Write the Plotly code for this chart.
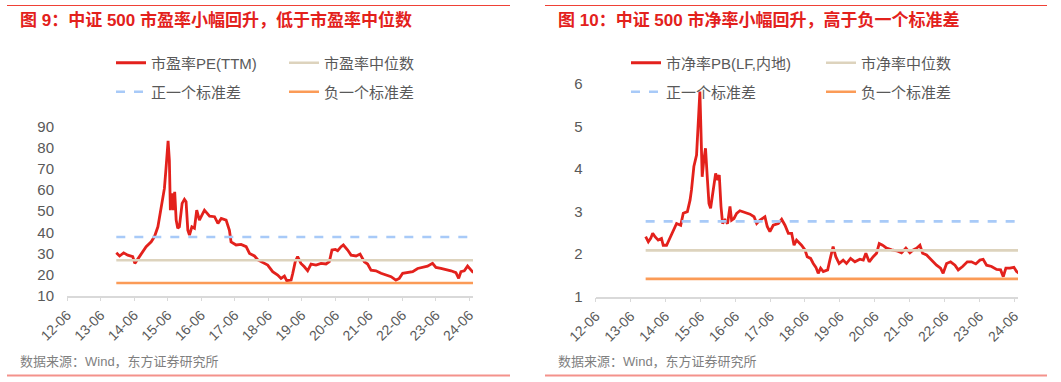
import plotly.graph_objects as go

# ---------------- data ----------------
pe_dates = ["2013-11-20", "2013-12-26", "2014-02-08", "2014-03-25", "2014-05-18", "2014-06-10", "2014-07-30",
            "2014-09-05", "2014-10-11", "2014-12-05", "2015-01-10", "2015-02-16", "2015-03-22", "2015-04-28",
            "2015-05-15", "2015-06-07", "2015-06-21", "2015-07-02", "2015-07-20", "2015-08-04", "2015-08-18",
            "2015-09-03", "2015-09-20", "2015-10-08", "2015-11-07", "2015-12-02", "2015-12-20", "2016-01-08",
            "2016-01-26", "2016-02-21", "2016-03-20", "2016-04-14", "2016-05-13", "2016-07-07", "2016-09-01",
            "2016-10-25", "2016-12-01", "2017-01-06", "2017-02-28", "2017-04-05", "2017-04-23", "2017-06-17",
            "2017-08-10", "2017-10-04", "2017-11-10", "2018-01-03", "2018-02-09", "2018-04-03", "2018-05-27",
            "2018-07-20", "2018-09-13", "2018-10-19", "2018-11-25", "2018-12-20", "2019-02-06", "2019-02-24",
            "2019-03-23", "2019-04-18", "2019-05-24", "2019-06-30", "2019-08-05", "2019-09-11", "2019-11-04",
            "2019-12-29", "2020-02-21", "2020-03-28", "2020-04-26", "2020-06-02", "2020-06-27", "2020-08-03",
            "2020-08-28", "2020-10-14", "2020-11-20", "2021-01-14", "2021-02-26", "2021-04-13", "2021-05-19",
            "2021-06-25", "2021-08-18", "2021-10-12", "2021-12-06", "2022-01-30", "2022-03-23", "2022-04-29",
            "2022-06-05", "2022-07-29", "2022-09-22", "2022-11-15", "2023-01-09", "2023-03-03", "2023-04-26",
            "2023-06-02", "2023-07-26", "2023-09-19", "2023-11-13", "2024-01-06", "2024-02-05", "2024-03-01",
            "2024-04-06", "2024-05-12", "2024-06-07", "2024-07-13"]
pe_values = [30.3, 28.8, 30.3, 29.2, 28.5, 25.3, 28.5,
             30.8, 33.2, 35.5, 38.0, 42.6, 52.0, 60.8,
             70.0, 83.3, 74.0, 50.5, 58.4, 50.5, 59.2,
             45.8, 41.9, 42.6, 53.7, 55.6, 54.5, 41.0,
             38.7, 42.6, 41.9, 50.5, 45.8, 50.5, 47.7,
             47.4, 44.2, 46.6, 45.8, 41.0, 35.5, 34.0,
             34.3, 33.2, 30.0, 28.8, 26.9, 25.6, 24.5,
             21.4, 19.8, 18.2, 19.3, 17.1, 17.4, 20.6,
             26.1, 28.5, 25.3, 23.7, 21.8, 25.0, 24.5,
             25.3, 25.0, 26.1, 31.6, 31.9, 31.3, 33.2,
             34.0, 31.6, 29.2, 28.8, 29.7, 26.1, 25.0,
             22.1, 21.8, 20.6, 19.8, 19.0, 17.4, 18.2,
             20.6, 20.9, 21.4, 22.9, 23.4, 24.0, 25.3,
             23.4, 22.9, 22.5, 21.8, 20.9, 18.2, 21.4,
             21.8, 24.0, 22.9, 20.9]
pe_median = 26.8
pe_plus_sd = 37.8
pe_minus_sd = 16.0

pb_dates = ["2013-11-06", "2013-12-04", "2013-12-29", "2014-01-19", "2014-02-12", "2014-03-17", "2014-04-21",
            "2014-05-09", "2014-06-13", "2014-07-18", "2014-08-22", "2014-09-26", "2014-11-08", "2014-12-05",
            "2015-01-17", "2015-02-14", "2015-03-01", "2015-03-26", "2015-04-23", "2015-05-10", "2015-05-28",
            "2015-06-07", "2015-06-21", "2015-07-08", "2015-07-26", "2015-08-13", "2015-08-31", "2015-09-17",
            "2015-10-15", "2015-11-09", "2015-11-30", "2015-12-17", "2016-01-04", "2016-01-21", "2016-02-15",
            "2016-03-13", "2016-04-07", "2016-04-24", "2016-05-19", "2016-06-16", "2016-07-20", "2016-09-12",
            "2016-11-03", "2016-12-15", "2017-01-12", "2017-02-16", "2017-04-08", "2017-05-02", "2017-05-30",
            "2017-07-04", "2017-08-26", "2017-09-30", "2017-11-04", "2017-12-09", "2018-01-13", "2018-02-07",
            "2018-03-05", "2018-04-26", "2018-06-01", "2018-06-25", "2018-07-30", "2018-08-27", "2018-09-24",
            "2018-10-18", "2018-11-12", "2018-12-10", "2019-01-25", "2019-02-17", "2019-03-23", "2019-04-20",
            "2019-05-25", "2019-07-06", "2019-08-10", "2019-09-22", "2019-11-06", "2019-12-28", "2020-02-02",
            "2020-02-29", "2020-04-04", "2020-05-16", "2020-06-20", "2020-07-18", "2020-08-22", "2020-10-03",
            "2020-11-25", "2021-01-17", "2021-03-08", "2021-04-23", "2021-06-04", "2021-07-09", "2021-08-13",
            "2021-09-17", "2021-10-15", "2021-11-26", "2022-01-18", "2022-03-10", "2022-04-21", "2022-05-18",
            "2022-06-23", "2022-08-04", "2022-09-19", "2022-10-23", "2022-12-08", "2023-01-26", "2023-03-11",
            "2023-04-25", "2023-06-07", "2023-07-11", "2023-08-16", "2023-10-07", "2023-11-29", "2024-01-10",
            "2024-02-07", "2024-03-05", "2024-04-16", "2024-05-28", "2024-06-25", "2024-07-23"]
pb_values = [2.41, 2.29, 2.37, 2.49, 2.41, 2.33, 2.37,
             2.21, 2.21, 2.37, 2.57, 2.72, 2.68, 2.96,
             3.00, 3.27, 3.51, 4.06, 4.33, 5.00, 5.82,
             5.00, 3.82, 4.21, 4.49, 3.82, 3.19, 3.08,
             3.51, 3.90, 3.74, 3.86, 3.12, 2.72, 2.80,
             2.72, 3.12, 2.80, 2.84, 2.96, 3.02, 2.97,
             2.94, 2.88, 2.72, 2.80, 2.88, 2.65, 2.53,
             2.68, 2.72, 2.82, 2.68, 2.49, 2.49, 2.21,
             2.33, 2.21, 2.10, 1.94, 1.90, 1.78, 1.69,
             1.55, 1.67, 1.59, 1.63, 1.86, 2.18, 1.94,
             1.78, 1.86, 1.78, 1.90, 1.82, 1.88, 1.86,
             2.02, 1.82, 1.94, 2.02, 2.25, 2.21, 2.14,
             2.10, 2.08, 2.03, 2.14, 2.03, 2.10, 2.14,
             2.21, 2.02, 1.98, 1.86, 1.74, 1.67, 1.55,
             1.78, 1.82, 1.74, 1.63, 1.71, 1.82, 1.82,
             1.77, 1.86, 1.88, 1.74, 1.71, 1.64, 1.63,
             1.47, 1.67, 1.67, 1.69, 1.59, 1.55]
pb_median = 2.09
pb_plus_sd = 2.77
pb_minus_sd = 1.42

tick_dates = ["2012-06-01", "2013-06-01", "2014-06-01", "2015-06-01", "2016-06-01", "2017-06-01", "2018-06-01",
              "2019-06-01", "2020-06-01", "2021-06-01", "2022-06-01", "2023-06-01", "2024-06-01"]
tick_labels = ["12-06", "13-06", "14-06", "15-06", "16-06", "17-06", "18-06",
               "19-06", "20-06", "21-06", "22-06", "23-06", "24-06"]
pe_yticks = [10, 20, 30, 40, 50, 60, 70, 80, 90]
pb_yticks = [1, 2, 3, 4, 5, 6]

titles = ["图 9：中证 500 市盈率小幅回升，低于市盈率中位数",
          "图 10：中证 500 市净率小幅回升，高于负一个标准差"]
source = "数据来源：Wind，东方证券研究所"
pe_names = ["市盈率PE(TTM)", "市盈率中位数", "正一个标准差", "负一个标准差"]
pb_names = ["市净率PB(LF,内地)", "市净率中位数", "正一个标准差", "负一个标准差"]

# ---------------- style ----------------
W, H = 1061, 382
FONT = "Liberation Sans, Arial, Noto Sans CJK SC, sans-serif"
RED = "#e3211c"
BEIGE = "#ddd3bd"
BLUE = "#a8caf8"
ORANGE = "#fb9b57"
GRAY = "#595959"
AXIS = "#d9d9d9"


def px_x(v):
    return v / W


def px_y(v):
    return 1 - v / H


fig = go.Figure()


def add_chart(dates, values, median, plus_sd, minus_sd, names, xa, ya, leg_a, leg_b):
    span = [dates[0], dates[-1]]
    fig.add_trace(go.Scatter(x=dates, y=values, mode="lines", name=names[0],
                             line=dict(color=RED, width=2.8), xaxis=xa, yaxis=ya, legend=leg_a))
    fig.add_trace(go.Scatter(x=span, y=[median, median], mode="lines", name=names[1],
                             line=dict(color=BEIGE, width=2.6), xaxis=xa, yaxis=ya, legend=leg_a))
    fig.add_trace(go.Scatter(x=span, y=[plus_sd, plus_sd], mode="lines", name=names[2],
                             line=dict(color=BLUE, width=2.6, dash="dash"), xaxis=xa, yaxis=ya, legend=leg_b))
    fig.add_trace(go.Scatter(x=span, y=[minus_sd, minus_sd], mode="lines", name=names[3],
                             line=dict(color=ORANGE, width=2.6), xaxis=xa, yaxis=ya, legend=leg_b))


add_chart(pe_dates, pe_values, pe_median, pe_plus_sd, pe_minus_sd, pe_names, "x", "y", "legend", "legend2")
add_chart(pb_dates, pb_values, pb_median, pb_plus_sd, pb_minus_sd, pb_names, "x2", "y2", "legend3", "legend4")

xcommon = dict(type="date", tickmode="array", tickvals=tick_dates, ticktext=tick_labels, tickangle=-45,
               showgrid=False, showline=True, linecolor=AXIS, linewidth=1.5, ticks="outside",
               tickcolor=AXIS, ticklen=4, tickwidth=1, zeroline=False,
               tickfont=dict(family=FONT, size=14, color=GRAY))
ycommon = dict(showgrid=False, showline=False, zeroline=False, ticks="",
               ticklabelstandoff=12, tickfont=dict(family=FONT, size=15, color=GRAY))

legcommon = dict(orientation="h", xanchor="left", yanchor="middle", bgcolor="rgba(0,0,0,0)",
                 font=dict(family=FONT, size=15, color=GRAY), itemwidth=30,
                 entrywidthmode="pixels", traceorder="normal")

fig.update_layout(
    width=W, height=H, margin=dict(l=0, r=0, t=0, b=0, autoexpand=False),
    paper_bgcolor="white", plot_bgcolor="white",
    font=dict(family=FONT, color=GRAY),
    xaxis=dict(domain=[px_x(67), px_x(473)], range=["2012-06-01", "2024-07-10"], anchor="y", **xcommon),
    yaxis=dict(domain=[px_y(295.7), px_y(126.7)], range=[10, 90], tickvals=pe_yticks, anchor="x", **ycommon),
    xaxis2=dict(domain=[px_x(595.7), px_x(1018)], range=["2012-06-01", "2024-07-10"], anchor="y2", **xcommon),
    yaxis2=dict(domain=[px_y(296.7), px_y(84)], range=[1, 6], tickvals=pb_yticks, anchor="x2", **ycommon),
    legend=dict(x=px_x(111), y=px_y(63), entrywidth=128, **legcommon),
    legend2=dict(x=px_x(111), y=px_y(92), entrywidth=128, **legcommon),
    legend3=dict(x=px_x(626), y=px_y(63), entrywidth=150, **legcommon),
    legend4=dict(x=px_x(626), y=px_y(92), entrywidth=150, **legcommon),
    showlegend=True,
)

# titles and sources
for x0, t in [(18, titles[0]), (556, titles[1])]:
    fig.add_annotation(x=px_x(x0), y=px_y(20.5), xref="paper", yref="paper", xanchor="left", yanchor="middle",
                       text="<b>" + t + "</b>", showarrow=False,
                       font=dict(family=FONT, size=17, color="#e3211c"))
for x0 in [18, 556]:
    fig.add_annotation(x=px_x(x0), y=px_y(361.5), xref="paper", yref="paper", xanchor="left", yanchor="middle",
                       text=source, showarrow=False, font=dict(family=FONT, size=13, color="#7f7f7f"))

# top and bottom rules
for x0, x1 in [(7, 510), (545, 1047)]:
    fig.add_shape(type="line", xref="paper", yref="paper", x0=px_x(x0), x1=px_x(x1), y0=px_y(5.5), y1=px_y(5.5),
                  line=dict(color="#ef4136", width=1))
    fig.add_shape(type="line", xref="paper", yref="paper", x0=px_x(x0), x1=px_x(x1), y0=px_y(375.5), y1=px_y(375.5),
                  line=dict(color="#f4928b", width=2))

fig.write_html("out.html", config={"displayModeBar": False},
               post_script="document.body.style.margin='0';document.body.style.overflow='hidden';")
